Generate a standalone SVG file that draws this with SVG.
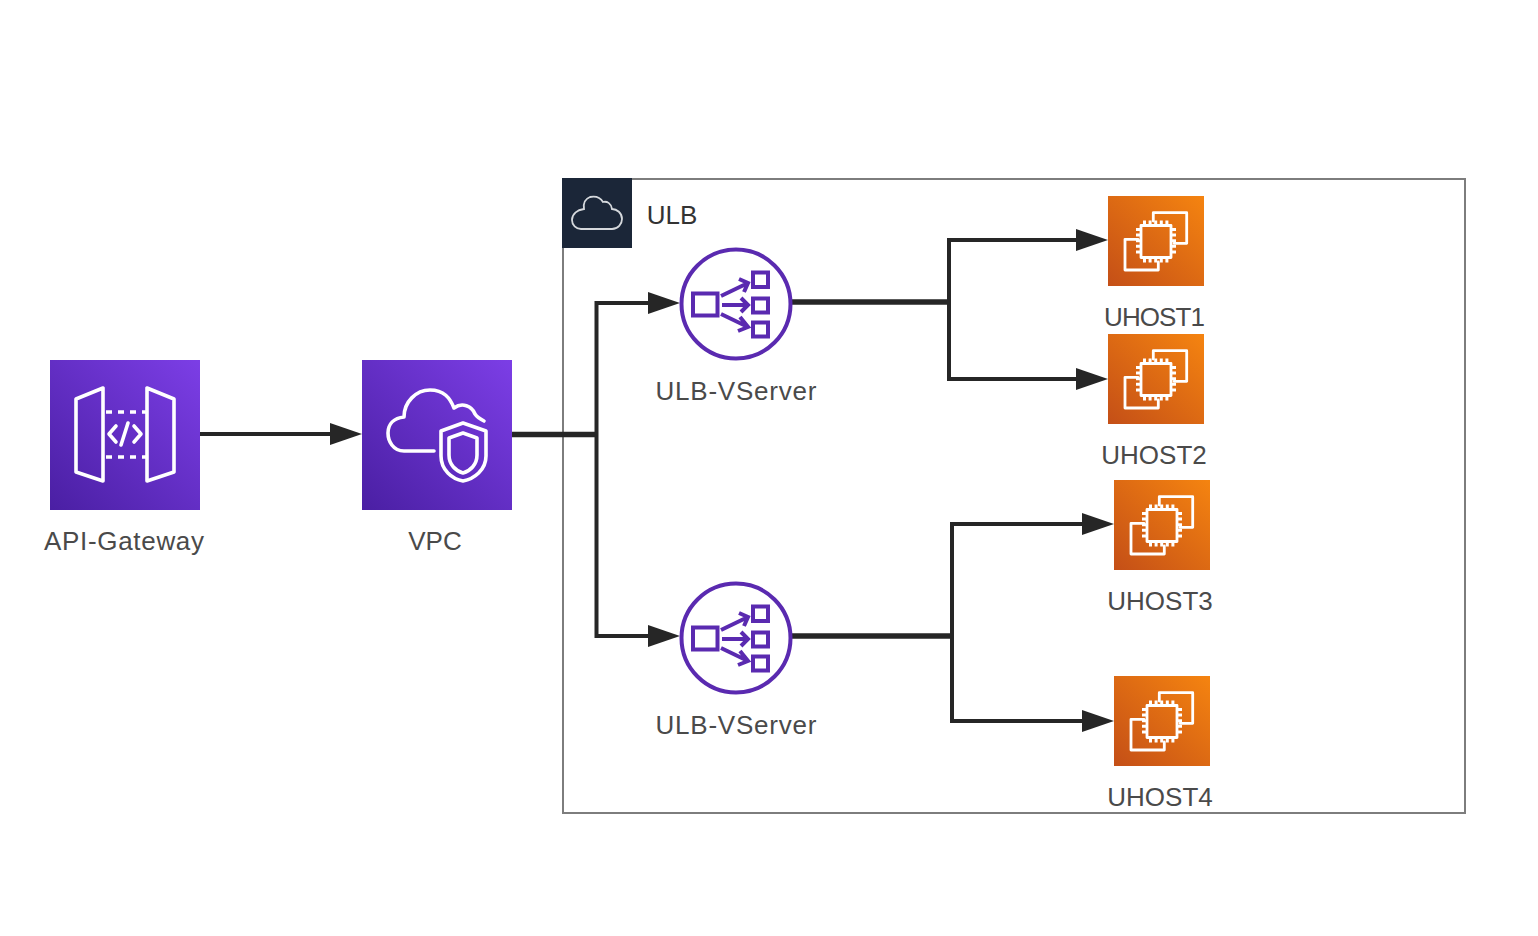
<svg xmlns="http://www.w3.org/2000/svg" width="1538" height="936" viewBox="0 0 1538 936">
<style>
text{font-family:"Liberation Sans",Arial,sans-serif;font-size:26px;fill:#4a4a4a;text-anchor:middle}
.w{fill:none;stroke:#fff;stroke-width:3.6;stroke-linejoin:round;stroke-linecap:round}
.o{fill:none;stroke:#fff;stroke-width:2.8;stroke-linejoin:round;stroke-linecap:round}
.pins{fill:none;stroke:#fff;stroke-width:4;stroke-dasharray:3 2.600}
.p{fill:none;stroke:#5a2ab0;stroke-width:4;stroke-linejoin:miter}
.c{fill:none;stroke:#262626;stroke-width:4;stroke-linejoin:miter}
.t{fill:none;stroke:#262626;stroke-width:5.500}
</style>
<defs>
<linearGradient id="gp" x1="0" y1="1" x2="1" y2="0"><stop offset="0" stop-color="#4a1fa3"/><stop offset="1" stop-color="#7c3ee6"/></linearGradient>
<linearGradient id="go" x1="0" y1="1" x2="1" y2="0"><stop offset="0" stop-color="#c44f17"/><stop offset="1" stop-color="#f58410"/></linearGradient>
<marker id="a" markerUnits="userSpaceOnUse" markerWidth="34" markerHeight="24" refX="24" refY="12" orient="auto"><path d="M0 1L32 12L0 23Z" fill="#262626"/></marker>
<g id="ec2">
<rect width="96" height="90" fill="url(#go)"/>
<path class="o" d="M45.300 25V16.700H78.700V47.300H66M30 43.300H17V74H50.300V66"/>
<rect class="o" x="33" y="29.500" width="30" height="32"/>
<path class="pins" d="M35 26.500H62M35 64.500H62M30 32V60M66 32V60"/>
</g>
<g id="lb">
<circle r="54.500" fill="#fff" stroke="#5a2ab0" stroke-width="4"/>
<rect class="p" x="-43" y="-10.500" width="24.500" height="22"/>
<rect class="p" x="17" y="-31.500" width="15" height="14.500"/>
<rect class="p" x="17" y="-5.500" width="15" height="14"/>
<rect class="p" x="17" y="18.500" width="15" height="14"/>
<path class="p" d="M-15-8L12-21M3-25L12-21L8-12M-14 1H12M5-6L12 1L5 8M-15 10L12 23M4 13L12 23L2 27"/>
</g>
</defs>
<g id="ulb-group">
<rect x="563" y="179" width="902" height="634" fill="#fff" stroke="#7d7d7d" stroke-width="2"/>
<rect x="562" y="178" width="70" height="70" fill="#1b2638"/>
<path d="M581 229H612C618 229 622 224 622 219C622 213 617 209 612 209C611 203 607 201 603 202C600 197 595 196 590 197C585 199 583 203 584 209C577 210 572 214 572 220C572 225 576 229 581 229Z" fill="none" stroke="#d5d8dc" stroke-width="1.800"/>
<text x="672" y="224" style="fill:#333">ULB</text>
</g>
<g id="connectors">
<path class="c" marker-end="url(#a)" d="M200 434H354"/>
<path class="t" d="M512 434.500H596"/>
<path class="c" marker-end="url(#a)" d="M596.500 434V303H672"/>
<path class="c" marker-end="url(#a)" d="M596.500 434V636H672"/>
<path class="t" d="M792 302H949"/>
<path class="c" marker-end="url(#a)" d="M949 302V240H1100"/>
<path class="c" marker-end="url(#a)" d="M949 302V379H1100"/>
<path class="t" d="M792 636H952"/>
<path class="c" marker-end="url(#a)" d="M952 636V524H1106"/>
<path class="c" marker-end="url(#a)" d="M952 636V721H1106"/>
</g>
<g id="api-gateway">
<rect x="50" y="360" width="150" height="150" fill="url(#gp)"/>
<path class="w" d="M103 388V481L76 472V399ZM147 388V481L174 472V399Z"/>
<path class="w" stroke-dasharray="6 6" style="stroke-linecap:butt" d="M106 412H146M106 457H146"/>
<path class="w" d="M116 426L109 434L116 442M134 426L141 434L134 442M128 423L121 445"/>
<text x="124" y="550" textLength="160">API-Gateway</text>
</g>
<g id="vpc">
<rect x="362" y="360" width="150" height="150" fill="url(#gp)"/>
<path class="w" d="M434 451H404C393 451 388 441 388 433C388 424 394 418 404 417C404 402 416 390 430 390C444 390 450 398 454 408C462 402 472 406 475 414C477 417 480 419 484 421"/>
<path class="w" d="M463 423L441 431V456C441 470 452 479 463 481C474 479 486 470 486 456V431Z"/>
<path class="w" d="M463 433L449 438V455C449 465 456 471 463 473C470 471 477 465 477 455V438Z"/>
<text x="435" y="550">VPC</text>
</g>
<g id="ulb-vserver-1"><use href="#lb" x="736" y="304"/><text x="736" y="400" textLength="161">ULB-VServer</text></g>
<g id="ulb-vserver-2"><use href="#lb" x="736" y="638"/><text x="736" y="734" textLength="161">ULB-VServer</text></g>
<g id="uhost1"><use href="#ec2" x="1108" y="196"/><text x="1154.500" y="326" textLength="101">UHOST1</text></g>
<g id="uhost2"><use href="#ec2" x="1108" y="334"/><text x="1154" y="464">UHOST2</text></g>
<g id="uhost3"><use href="#ec2" x="1114" y="480"/><text x="1160" y="610">UHOST3</text></g>
<g id="uhost4"><use href="#ec2" x="1114" y="676"/><text x="1160" y="806">UHOST4</text></g>
</svg>
